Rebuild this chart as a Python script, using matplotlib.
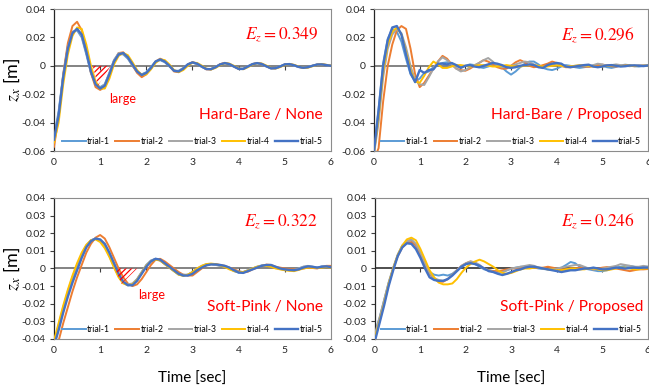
#!/usr/bin/env python3
# coding: utf-8
"""
z_x response of the five trials, 2x2 panels (surface / controller)
"""

# %% libraries
import numpy as np
import matplotlib.pyplot as plt

plt.rcParams['font.family'] = ['Lato', 'DejaVu Sans']
plt.rcParams['mathtext.fontset'] = 'stix'
plt.rcParams['axes.unicode_minus'] = False
plt.rcParams['hatch.linewidth'] = 0.9

# %% data
# displacement in mm, one sample every 0.1 s from 0 to 6 s
time = np.round(np.arange(0, 61) * 0.1, 1)
trials = ['trial-1', 'trial-2', 'trial-3', 'trial-4', 'trial-5']
colors = ['#5B9BD5', '#ED7D31', '#A5A5A5', '#FFC000', '#4472C4']

# --+ Hard-Bare / None
hb_none_1 = [-50, -32, -6, 14, 24, 25, 20, 8, -5, -13, -15,
             -13, -5, 4, 8.5, 8, 5, 0, -4.5, -6, -4.5,
             -1, 3, 4, 2.5, -0.5, -3.5, -3.5, -1.5, 1.2, 2.2,
             1.2, -0.8, -2.2, -2.2, -0.7, 1.1, 1.8, 1.0, -0.7, -2.0,
             -2.0, -0.3, 1.2, 1.8, 1.1, -0.5, -1.7, -1.5, -0.3, 1.0,
             1.1, 0.2, -0.8, -1.3, -0.8, 0.1, 0.9, 0.9, 0.4, 0.0]
hb_none_2 = [-57, -36, -6, 16, 28, 31, 25, 11, -5, -15, -17,
             -15, -7, 3, 9, 9.5, 6, 0.5, -5, -8, -6,
             -2, 3, 5, 3.5, 0, -4, -4.5, -2, 1, 2.6,
             1.6, -0.5, -2.5, -2.6, -1, 1.2, 2.1, 1.3, -0.6, -2.2,
             -2.3, -0.6, 1.2, 2.0, 1.4, -0.3, -1.8, -1.8, -0.6, 1.0,
             1.3, 0.5, -0.8, -1.5, -1.1, 0.0, 0.9, 1.1, 0.6, 0.0]
hb_none_3 = [-53, -34, -7, 13, 23, 26, 21, 9, -4, -13, -16,
             -13, -5, 4, 9, 8.5, 5.5, 0.5, -4, -6, -5,
             -1.5, 3, 4.5, 3, -0.2, -3.3, -3.8, -1.8, 1, 2.3,
             1.4, -0.6, -2.2, -2.3, -0.8, 1, 1.8, 1.1, -0.6, -2.1,
             -2.1, -0.4, 1.2, 1.8, 1.2, -0.4, -1.7, -1.6, -0.4, 1.0,
             1.2, 0.3, -0.8, -1.3, -0.9, 0.1, 0.9, 1.0, 0.5, 0.0]
hb_none_4 = [-54, -40, -13, 8, 21, 27, 26, 15, 0, -11, -16,
             -16, -9, 1, 7, 9, 7.5, 2.5, -3, -6.5, -6,
             -2.5, 2, 4.5, 4, 1, -3, -4.5, -3, 0, 2.2,
             2.0, 0.2, -2.0, -2.6, -1.5, 0.5, 1.8, 1.5, 0, -1.9,
             -2.4, -1.0, 0.8, 1.9, 1.6, 0.2, -1.5, -1.9, -0.9, 0.6,
             1.2, 0.7, -0.5, -1.4, -1.3, -0.3, 0.7, 1.1, 0.7, 0.1]
hb_none_5 = [-52, -35, -8, 12, 23, 26, 22, 10, -4, -13, -16,
             -14, -6, 3, 8, 9, 6, 1, -4, -6.5, -5,
             -1.5, 3, 4.5, 3, 0, -3.5, -4, -2, 1, 2.4,
             1.5, -0.5, -2.3, -2.4, -1, 1, 1.9, 1.2, -0.5, -2.2,
             -2.2, -0.5, 1.2, 1.9, 1.3, -0.3, -1.8, -1.7, -0.5, 1.0,
             1.2, 0.4, -0.8, -1.4, -1.0, 0.0, 0.9, 1.0, 0.5, 0.0]

# --+ Hard-Bare / Proposed
hb_prop_1 = [-58, -30, 2, 19, 26, 24, 17, 5, -6, -11, -9,
             -5, -4, -1, 1, 2, 2.5, 1.5, -0.5, -1, 0,
             1, 0.5, -1, -1.5, -0.5, 0.5, 1, -1, -4, -6.2,
             -4, -1, 1.5, 3, 3, 1, -1.5, -2.5, -3, -2,
             -0.5, 0.5, 0, -1, -1.5, -1, -0.5, 0.3, 0.5, 0,
             -1, -1.5, -0.8, 0.3, 0.8, 0.4, -0.3, -0.5, 0, 0.3]
hb_prop_2 = [-66, -58, -25, 0, 15, 25, 28, 26, 12, -6, -15,
             -12, -7, -2, 3, 7, 5, 1, -2, -3, -3.5,
             -2, 0, 2, 4, 3, 1, -1, -2, -2, 0,
             2.5, 4, 2.5, 0, -1, -0.5, 0.5, 1.5, 3, 2,
             0, -1, -1, -0.5, 0, -0.5, -0.8, -0.3, 0.5, 0.8,
             0.3, -0.3, -0.5, 0, 0.3, 0, -0.3, 0, 0.2, 0]
hb_prop_3 = [-62, -40, -8, 12, 22, 26, 23, 13, 0, -10, -13,
             -13.5, -8, -2, 3, 6, 4, 1, -2, -4, -3,
             -1, 0.5, 2, 4, 5.5, 3, 0, -1, -0.5, 0,
             1, 2, 3, 2.5, 1, -0.5, -1, 0, 1, 1,
             0, -0.5, -0.5, 0, 0.5, 0, -0.5, 0.5, 1.5, 1,
             0, 0.5, 1, 0.5, 0, -0.3, 0.2, 0.5, 0.3, 0.3]
hb_prop_4 = [-61, -36, -4, 15, 24, 27, 22, 10, -3, -11, -12,
             -7, -1, 3, 1, -1.5, -1.5, -0.5, 0.5, 0.5, 0,
             -0.5, 0, 0.5, 0.5, 0, -0.5, -0.5, 0, 0.5, 0,
             -0.5, -0.5, 0, 0.5, 0.5, 0, -0.5, -0.5, 0, 0.3,
             0, -0.5, -0.3, 0, 0.3, 0.5, 0, -0.5, -0.8, -0.5,
             0, 0.3, 0, -0.2, 0, 0.2, 0, -0.2, 0, 0.1]
hb_prop_5 = [-60, -32, 0, 18, 27, 28, 22, 8, -5, -11.5, -3,
             -5, -3, -2.5, 1.5, 1.5, 1, 2, 0.5, -1.5, 0,
             0.5, -0.5, -1, 0, 1, 2, 1.5, 0.5, -1, -1.5,
             -1, 0, 0.5, 1, 0.5, -1, -1.5, 0.5, 1.5, 2,
             1.5, -0.5, -1, -0.5, 0, 0.5, 0.8, -0.5, -1, -0.5,
             0.3, 0.5, 0, -0.5, -0.3, 0.2, 0.3, 0, -0.2, 0.2]

# --+ Soft-Pink / None
sp_none_1 = [-43, -33, -23, -14, -6, 1, 7, 12.5, 16, 17, 16,
             12.5, 7.5, 1.5, -4, -8, -9.5, -9, -6, -2, 2,
             4.5, 5.5, 4.5, 2.5, 0.5, -1.5, -3.5, -4, -3.5, -2,
             -0.5, 1, 2, 2.5, 2.2, 1.5, 1, 0, -1.5, -2.3,
             -2, -1, 0, 1, 1.8, 2, 1.5, 0.5, -0.3, -0.6,
             -1, -0.8, 0, 1, 1.3, 0.8, 0.5, 1.2, 1.3, 0.8]
sp_none_2 = [-50, -41, -31, -22, -13, -5, 2, 9, 14, 17.5, 19,
             17, 12, 6, 0, -5, -8.5, -10, -9, -6, -2,
             2, 5, 5.5, 4, 2, 0, -2, -3.5, -4, -4,
             -2, 0, 1.8, 2.5, 2.5, 2, 1.5, 0.5, -0.5, -1.5,
             -2.2, -1.8, -0.5, 0.5, 1.5, 2.2, 2, 1, 0.5, 0,
             -0.3, -0.5, -0.5, 0, 0.5, 0.3, 0, 0.8, 1.5, 1.5]
sp_none_3 = [-42, -32, -22, -13, -5, 2, 8, 13, 16, 17, 16,
             12.5, 7, 1, -4.5, -8, -9, -8.5, -6, -2, 2,
             4.5, 5.5, 4.5, 2.5, 0.5, -1.5, -3, -3.5, -3.5, -2,
             0, 1.5, 2.5, 2.5, 2, 1.5, 1, 0, -1, -1.8,
             -2, -1, 0, 1, 1.5, 1.8, 1.5, 0.5, -0.3, -0.8,
             -1, -0.8, 0, 1, 1.5, 1, 0.5, 1, 1.2, 0.8]
sp_none_4 = [-41, -31, -21, -12, -4, 3, 9, 13.5, 16, 16.5, 15,
             11.5, 6.5, 0.5, -5, -8.5, -9.5, -9, -6.5, -2.5, 1.5,
             4, 5, 4.5, 2.5, 0.5, -1.5, -3.5, -4.2, -3.5, -2,
             0, 1.5, 2.5, 2.8, 2.5, 1.8, 0.8, -0.5, -1.5, -2,
             -2, -1.2, 0, 1, 1.5, 1.5, 1, 0, -0.5, -1,
             -1.3, -1.5, -0.8, 0, 0.5, 0.5, 0.3, 0.5, 0.8, 0.5]
sp_none_5 = [-44, -35, -25, -16, -8, -1, 6, 12, 15.5, 17, 16.5,
             14, 9, 3, -3, -7.5, -9.5, -9.5, -7, -3, 1,
             4, 5.5, 5, 3, 1, -1, -3, -4, -4, -3,
             -1, 0.5, 1.8, 2.3, 2.3, 2, 1.5, 0.5, -1, -2.3,
             -2.5, -1.5, -0.5, 0.5, 1.5, 2, 2, 1, 0, -0.5,
             -0.8, -1, -0.5, 0.5, 1.2, 1.0, 0.5, 1, 1.2, 0.8]

# --+ Soft-Pink / Proposed
sp_prop_1 = [-36, -28, -18, -8, 0, 7.5, 13, 15.5, 16, 13, 7.5,
             2, -2, -3.5, -4, -3.5, -4, -3, -1, 1, 2.5,
             3.5, 2.5, 1, -0.5, -1, -1.5, -2, -2, -1, 0,
             0.5, 1, 1, 1, 0.5, 0, -0.3, -0.5, -0.5, 0,
             0.5, 2, 3.7, 3, 1, 0, -0.5, -1, -1.5, -1.5,
             -1, 0, 0.5, 1, 1.5, 1.5, 1, 0.5, 1, 1]
sp_prop_2 = [-38, -29, -19, -9, 0, 7, 12, 14.5, 15, 13, 8,
             2, -3, -6, -7.5, -7.5, -6, -3.5, -1, 1.5, 3,
             4, 3, 1.5, 0, -1, -1.5, -1.5, -1, -0.5, 0,
             0, 0.5, 0.5, 0.5, 0.5, 0.3, 0.5, 1, 0.5, 0,
             -0.5, -0.5, 0, 0, 0.5, 0.5, 0, -0.5, 0, 0.5,
             0.8, 0.5, 0, -0.5, -1, -1.5, -1, -0.5, -0.5, -0.3]
sp_prop_3 = [-37, -28, -18, -8, 0.5, 8, 13, 15.5, 16.5, 14, 9,
             3, -2.5, -5.5, -6.5, -7, -6, -3.5, -1, 1.5, 3,
             4, 3.5, 2, 0, -1, -2, -2.5, -2, -1, 0,
             0.5, 1, 1.5, 2, 1.5, 0.5, 0, -0.5, -0.5, 0,
             0.5, 1, 1.5, 2, 2, 1, 0, -0.5, -0.5, 0,
             0.5, 1, 1.5, 2.5, 2, 1.5, 1, 1, 1.5, 1]
sp_prop_4 = [-39, -30, -20, -9, 0, 7.5, 13, 16.5, 17.5, 16, 11,
             5, -1, -5, -8, -9, -9, -8.5, -6, -2.5, 0.5,
             2.5, 4, 5, 4, 2.5, 1, -1, -2.5, -3, -2.5,
             -1.5, -0.5, 0, 0, 0.5, 0.5, 0, -0.5, -0.5, -1,
             -1, -0.5, 0, 0, -0.5, -0.5, 0, 0, -0.5, -1,
             -1, -0.5, 0, 0.5, 0.5, 0, -0.5, -0.5, 0, 0]
sp_prop_5 = [-41, -31, -21, -10, -1, 7, 12, 14.3, 14, 11, 6,
             0, -5, -6.5, -7, -7, -6, -4, -1.5, 1, 2.5,
             3, 2.5, 1.5, 0, -1.5, -2, -3, -3.7, -3, -2,
             -1, -0.5, 0.5, 1, 1, 0.5, 0, -0.5, -1, -1.5,
             -2, -1.5, -1, -1, -0.5, 0, 0, 0.5, 0, -0.5,
             -0.5, 0, 0.5, 0.3, 0, 0.3, 0.5, 0.3, 0.5, 0.5]

# panel labels and error values
panel_names = ['Hard-Bare / None', 'Hard-Bare / Proposed',
               'Soft-Pink / None', 'Soft-Pink / Proposed']
ez_values = [0.349, 0.296, 0.322, 0.246]

# hatched "large" areas (time [s], z_x [m])
hatch_hb_t = [0.84, 1.23, 0.95]
hatch_hb_z = [0.0, 0.0, -0.0140]
hatch_sp_t = [1.33, 1.80, 1.46]
hatch_sp_z = [0.0, 0.0, -0.0088]


# %% figure framework
fig = plt.figure(figsize=(6.49, 3.88), dpi=100)

ax_tl = fig.add_axes([0.0832, 0.6108, 0.4268, 0.3660])
ax_tr = fig.add_axes([0.5763, 0.6108, 0.4222, 0.3660])
ax_bl = fig.add_axes([0.0832, 0.1263, 0.4268, 0.3634])
ax_br = fig.add_axes([0.5778, 0.1263, 0.4206, 0.3634])

panels = [
    (ax_tl, [hb_none_1, hb_none_2, hb_none_3, hb_none_4, hb_none_5]),
    (ax_tr, [hb_prop_1, hb_prop_2, hb_prop_3, hb_prop_4, hb_prop_5]),
    (ax_bl, [sp_none_1, sp_none_2, sp_none_3, sp_none_4, sp_none_5]),
    (ax_br, [sp_prop_1, sp_prop_2, sp_prop_3, sp_prop_4, sp_prop_5]),
]

ez_pos = [(0.953, 0.817), (0.953, 0.817), (0.953, 0.828), (0.952, 0.837)]
name_pos = [(0.971, 0.254), (0.978, 0.254), (0.971, 0.225), (0.985, 0.229)]

for k, (ax, series) in enumerate(panels):
    top = k < 2

    # zero line
    ax.axhline(0, color='#6e6e6e' if k < 3 else '#303030', lw=1.2, zorder=1)
    ax.plot(np.arange(1, 6), np.zeros(5), ls='none', marker=3, ms=3,
            mew=0.8, color='#404040', zorder=1)

    # trials
    for i, y in enumerate(series):
        ax.plot(time, np.array(y) / 1000, color=colors[i],
                lw=1.7 if i == 4 else 1.4, label=trials[i], zorder=2 + i)

    # axis properties
    ax.set_xlim(0, 6)
    ax.set_xticks(np.arange(0, 7))
    if top:
        ax.set_ylim(-0.06, 0.04)
        yt = np.array([-0.06, -0.04, -0.02, 0, 0.02, 0.04])
    else:
        ax.set_ylim(-0.04, 0.04)
        yt = np.array([-0.04, -0.03, -0.02, -0.01, 0, 0.01, 0.02, 0.03, 0.04])
    ax.set_yticks(yt)
    ax.set_yticklabels(['0' if abs(v) < 1e-9 else '%g' % v for v in yt])
    ax.tick_params(axis='y', length=3, width=0.8, color='#404040',
                   labelsize=7.5, pad=3, labelcolor='#262626')
    ax.tick_params(axis='x', length=0, labelsize=7.5, pad=5,
                   labelcolor='#262626')

    for side in ['top', 'right', 'bottom']:
        ax.spines[side].set_color('#8c8c8c')
        ax.spines[side].set_linewidth(0.8)
    ax.spines['left'].set_color('#262626')
    ax.spines['left'].set_linewidth(0.9)

    # annotations
    ax.text(ez_pos[k][0], ez_pos[k][1], r'$E_z = %.3f$' % ez_values[k],
            transform=ax.transAxes, ha='right', va='center',
            color='#FF0000', fontsize=12.5)
    ax.text(name_pos[k][0], name_pos[k][1], panel_names[k],
            transform=ax.transAxes, ha='right', va='center',
            color='#FF0000', fontsize=11.2)

    # legend
    ax.legend(ncol=5, loc='lower center', bbox_to_anchor=(0.5, -0.01),
              frameon=False, fontsize=6.2, handlelength=2.7,
              handletextpad=0.2, columnspacing=0.6, borderpad=0.3)

    if k % 2 == 0:
        ax.set_ylabel(r'$z_x$ [m]', fontsize=13)
        ax.yaxis.set_label_coords(-0.115, 0.5)
    if not top:
        ax.set_xlabel('Time [sec]', fontsize=11, labelpad=12)

# hatched areas
ax_tl.fill(hatch_hb_t, hatch_hb_z, facecolor='none', edgecolor='#FF0000',
           hatch='//////', lw=0.01, zorder=9)
ax_bl.fill(hatch_sp_t, hatch_sp_z, facecolor='none', edgecolor='#FF0000',
           hatch='//////', lw=0.01, zorder=9)
ax_tl.text(1.48, -0.0235, 'large', color='#FF0000', fontsize=9,
           ha='center', va='center')
ax_bl.text(2.12, -0.0151, 'large', color='#FF0000', fontsize=9,
           ha='center', va='center')

# save plot to file
plt.savefig('out.png', dpi=100)
